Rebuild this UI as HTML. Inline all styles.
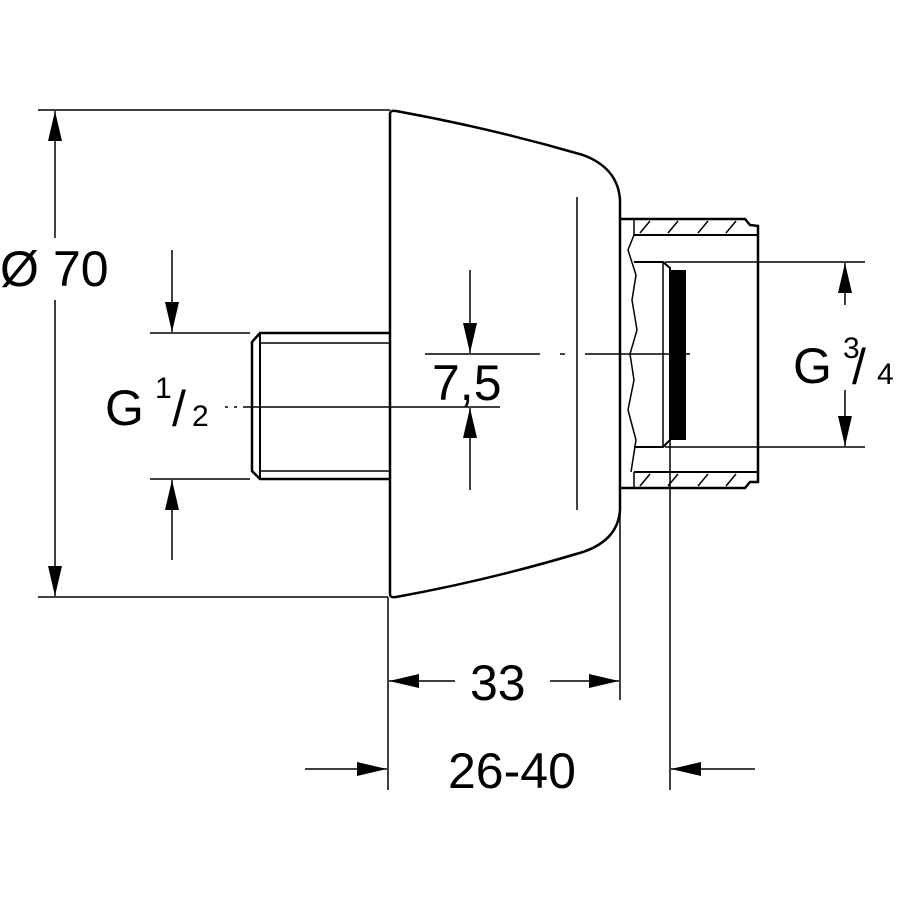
<!DOCTYPE html>
<html><head><style>body{margin:0;background:#fff}svg{display:block}text{font-family:"Liberation Sans",sans-serif;fill:#000}</style></head><body>
<svg width="900" height="900" viewBox="0 0 900 900" xmlns="http://www.w3.org/2000/svg">
<defs>
<marker id="a" markerWidth="30" markerHeight="14" refX="30" refY="7" orient="auto" markerUnits="userSpaceOnUse" viewBox="0 0 30 14"><path d="M0,0 L30,7 L0,14z" fill="#000"/></marker>
</defs>
<g fill="none" stroke="#000" stroke-width="1.5">
<!-- body -->
<path d="M390,114 Q390,110 396,111 Q490,128 583,155 Q618,168 620,200 L620,510 Q618,540 583,552 Q490,580 396,597 Q390,598 390,594 Z" stroke-width="2.5"/>
<line x1="577" y1="197" x2="577" y2="510"/>
<!-- nipple -->
<path d="M390,333 L260,333 L252,342 L252,471 L260,479 L390,479" stroke-width="2.5"/>
<line x1="260" y1="333" x2="260" y2="479" stroke-width="2"/>
<line x1="260" y1="343" x2="390" y2="343"/>
<line x1="260" y1="471" x2="390" y2="471"/>
<!-- fitting -->
<path d="M620,219 L745,219 L750,225 L758,226 L758,482 L750,482 L745,488 L620,488" stroke-width="2.5"/>
<line x1="634" y1="235" x2="758" y2="235" stroke-width="2"/>
<line x1="634" y1="472" x2="758" y2="472" stroke-width="2"/>
<path d="M634,219 L634,235 M634,472 L634,488" />
<path d="M640,233 L650,221 M668,233 L678,221 M698,233 L708,221 M726,233 L736,221 M640,486 L650,474 M668,486 L678,474 M698,486 L708,474 M726,486 L736,474"/>
<path d="M634,235 L628,250 L636,275 L632,300 L637,330 L630,354 L634,380 L628,410 L636,440 L631,472" />
<path d="M634,262 L663,262 L670,268 L670,440 L663,447 L634,447" stroke-width="2"/>
<line x1="663" y1="262" x2="663" y2="447" stroke-width="1.5"/>
<rect x="670" y="270" width="16" height="170" fill="#000" stroke="none"/>
<!-- centerlines -->
<path d="M425,354 L540,354 M560,354 L565,354 M585,354 L690,354" />
<path d="M225,407 L228,407 M234,407 L237,407 M243,407 L400,407"/>
<line x1="400" y1="407" x2="500" y2="407"/>
<!-- Ø70 -->
<line x1="38" y1="110" x2="390" y2="110"/>
<line x1="38" y1="597" x2="388" y2="597"/>
<line x1="55" y1="238" x2="55" y2="111" marker-end="url(#a)"/>
<line x1="55" y1="300" x2="55" y2="596" marker-end="url(#a)"/>
<!-- G1/2 -->
<line x1="150" y1="333" x2="250" y2="333"/>
<line x1="150" y1="479" x2="250" y2="479"/>
<line x1="172" y1="250" x2="172" y2="332" marker-end="url(#a)"/>
<line x1="172" y1="560" x2="172" y2="480" marker-end="url(#a)"/>
<!-- 7,5 -->
<line x1="470" y1="270" x2="470" y2="353" marker-end="url(#a)"/>
<line x1="470" y1="490" x2="470" y2="408" marker-end="url(#a)"/>
<!-- G3/4 -->
<line x1="665" y1="262" x2="865" y2="262"/>
<line x1="665" y1="447" x2="865" y2="447"/>
<line x1="845" y1="305" x2="845" y2="263" marker-end="url(#a)"/>
<line x1="845" y1="390" x2="845" y2="446" marker-end="url(#a)"/>
<!-- 33 -->
<line x1="388" y1="597" x2="388" y2="790"/>
<line x1="620" y1="488" x2="620" y2="700"/>
<line x1="455" y1="681" x2="389" y2="681" marker-end="url(#a)"/>
<line x1="550" y1="681" x2="619" y2="681" marker-end="url(#a)"/>
<!-- 26-40 -->
<line x1="670" y1="440" x2="670" y2="790"/>
<line x1="305" y1="769" x2="387" y2="769" marker-end="url(#a)"/>
<line x1="755" y1="769" x2="671" y2="769" marker-end="url(#a)"/>
</g>
<text x="0" y="286" font-size="50">Ø</text>
<text x="53" y="286" font-size="50">70</text>
<text x="105" y="425" font-size="50">G</text>
<text x="155" y="398" font-size="30">1</text>
<text x="172" y="426" font-size="50">/</text>
<text x="192" y="426" font-size="30">2</text>
<text x="432" y="400" font-size="50">7,5</text>
<text x="470" y="700" font-size="50">33</text>
<text x="448" y="788" font-size="50">26-40</text>
<text x="793" y="383" font-size="50">G</text>
<text x="843" y="358" font-size="30">3</text>
<text x="852" y="384" font-size="50">/</text>
<text x="877" y="384" font-size="30">4</text>
</svg>
</body></html>
